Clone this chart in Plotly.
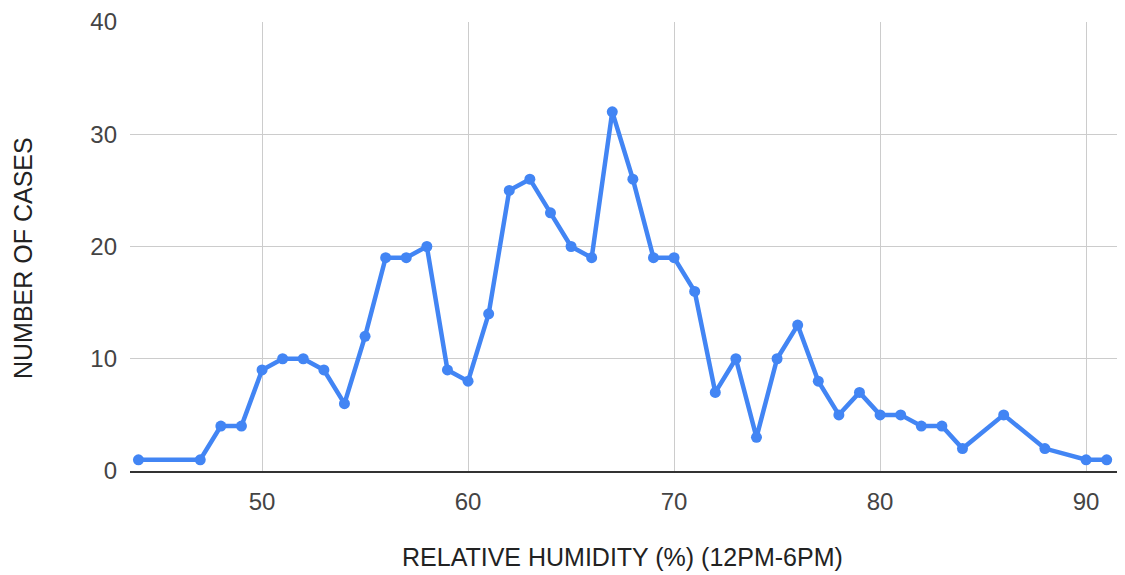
import plotly.graph_objects as go

humidity = [44, 47, 48, 49, 50, 51, 52, 53, 54, 55, 56, 57, 58, 59, 60, 61, 62, 63, 64, 65,
            66, 67, 68, 69, 70, 71, 72, 73, 74, 75, 76, 77, 78, 79, 80, 81, 82, 83, 84, 86,
            88, 90, 91]
cases = [1, 1, 4, 4, 9, 10, 10, 9, 6, 12, 19, 19, 20, 9, 8, 14, 25, 26, 23, 20,
         19, 32, 26, 19, 19, 16, 7, 10, 3, 10, 13, 8, 5, 7, 5, 5, 4, 4, 2, 5,
         2, 1, 1]
x_ticks = [50, 60, 70, 80, 90]
y_ticks = [0, 10, 20, 30, 40]
x_title = "RELATIVE HUMIDITY (%) (12PM-6PM)"
y_title = "NUMBER OF CASES"

FONT = "Liberation Sans, Arial, sans-serif"

fig = go.Figure()
fig.add_trace(go.Scatter(
    x=humidity, y=cases, mode="lines+markers",
    line=dict(color="#4285F4", width=4.5),
    marker=dict(color="#4285F4", size=11),
    hoverinfo="x+y", showlegend=False,
))

pw = 1125 - 130 - 8
ph = 575 - 22 - 104

fig.update_layout(
    width=1125, height=575,
    margin=dict(l=130, r=8, t=22, b=104),
    paper_bgcolor="white", plot_bgcolor="white",
    font=dict(family=FONT, size=24, color="#444444"),
    xaxis=dict(
        range=[43.59, 91.5], tickvals=x_ticks, ticktext=[str(v) for v in x_ticks],
        showgrid=True, gridcolor="#cccccc", gridwidth=1,
        showline=True, linecolor="#333333", linewidth=1.5,
        zeroline=False, ticks="", ticklabelstandoff=8,
        tickfont=dict(family=FONT, size=24, color="#444444"),
    ),
    yaxis=dict(
        range=[0, 40], tickvals=y_ticks, ticktext=[str(v) for v in y_ticks],
        showgrid=True, gridcolor="#cccccc", gridwidth=1,
        showline=False, zeroline=False, ticks="", ticklabelstandoff=12,
        tickfont=dict(family=FONT, size=24, color="#444444"),
    ),
    annotations=[
        dict(text=x_title, x=(622 - 130) / pw, y=(471 - 557) / ph, xref="paper", yref="paper",
             showarrow=False, xanchor="center", yanchor="middle",
             font=dict(family=FONT, size=25, color="#222222")),
        dict(text=y_title, x=(23 - 130) / pw, y=(471 - 258) / ph, xref="paper", yref="paper",
             showarrow=False, xanchor="center", yanchor="middle", textangle=-90,
             font=dict(family=FONT, size=25, color="#222222")),
    ],
)

fig.write_html("out.html")
